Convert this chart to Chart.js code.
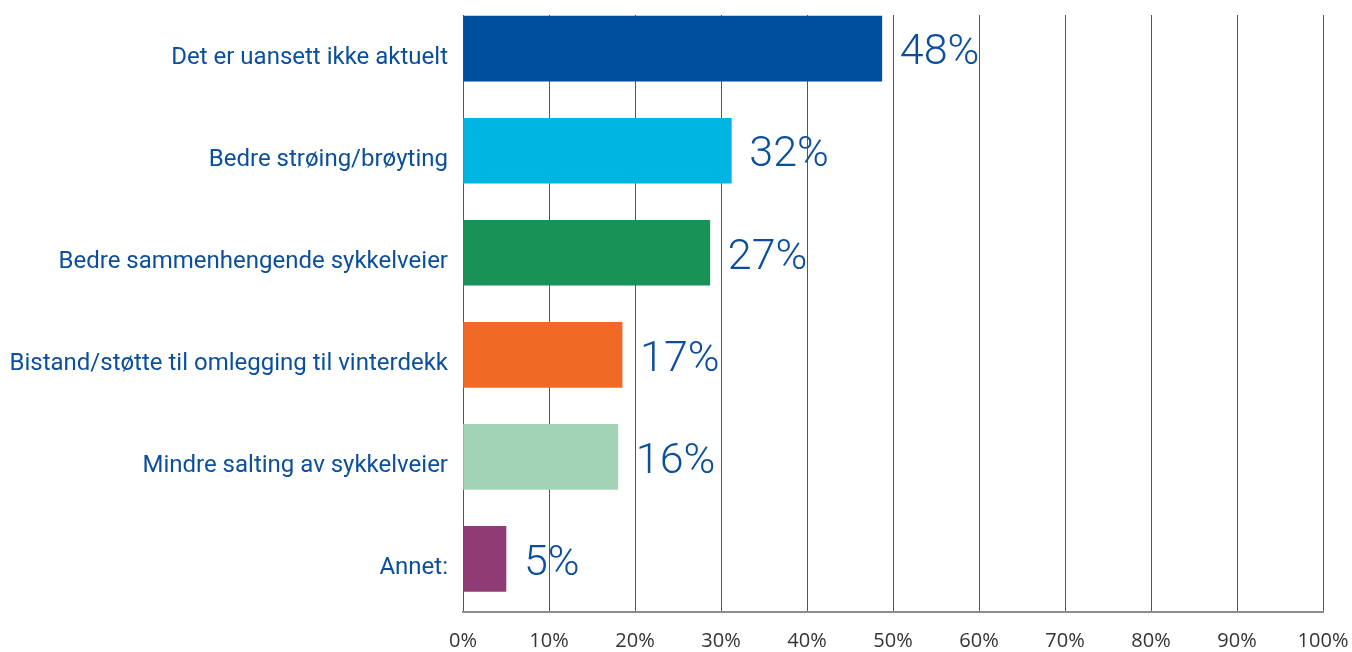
<!DOCTYPE html>
<html>
<head>
<meta charset="utf-8">
<script src="https://cdn.jsdelivr.net/npm/chart.js@4"></script>
<style>
  body { margin: 0; background: #fff; }
  #wrap { width: 1352px; height: 652px; position: relative; }
</style>
</head>
<body>
<div id="wrap"><canvas id="myChart"></canvas></div>
<script>
const categories = [
  'Det er uansett ikke aktuelt',
  'Bedre strøing/brøyting',
  'Bedre sammenhengende sykkelveier',
  'Bistand/støtte til omlegging til vinterdekk',
  'Mindre salting av sykkelveier',
  'Annet:'
];
const barValues = [48.7, 31.2, 28.7, 18.5, 18.0, 5.0];
const valueLabels = ['48%', '32%', '27%', '17%', '16%', '5%'];
const barColors = ['#004f9e', '#00b5e2', '#189257', '#ee6a25', '#a3d3b6', '#903c74'];
const xTicks = [0, 10, 20, 30, 40, 50, 60, 70, 80, 90, 100];

const blue = '#0b4f9c';

const valueLabelPlugin = {
  id: 'valueLabels',
  afterDatasetsDraw(chart) {
    const ctx = chart.ctx;
    const meta = chart.getDatasetMeta(0);
    ctx.save();
    ctx.font = '300 43px Roboto';
    ctx.fillStyle = blue;
    ctx.textBaseline = 'middle';
    ctx.textAlign = 'left';
    meta.data.forEach((bar, i) => {
      ctx.fillText(valueLabels[i], bar.x + 18, bar.y + 5);
    });
    ctx.restore();
  }
};

const ctx = document.getElementById('myChart');

new Chart(ctx, {
  type: 'bar',
  data: {
    datasets: [{
      data: barValues.map((v, i) => ({ x: v, y: i })),
      backgroundColor: barColors,
      borderWidth: 0,
      barThickness: 65
    }]
  },
  options: {
    indexAxis: 'y',
    responsive: true,
    maintainAspectRatio: false,
    animation: false,
    layout: { padding: { top: 15, right: 29, left: 0, bottom: 0 } },
    plugins: {
      legend: { display: false },
      tooltip: { enabled: false }
    },
    scales: {
      x: {
        type: 'linear',
        min: 0,
        max: 100,
        afterBuildTicks: s => { s.ticks = xTicks.map(v => ({ value: v })); },
        afterFit: s => { s.height = 40; s.paddingLeft = 0; s.paddingRight = 0; },
        grid: { color: '#555', lineWidth: 1, drawTicks: false },
        border: { color: '#8c8c8c', width: 2 },
        ticks: {
          padding: 17,
          color: '#333',
          font: { family: 'Open Sans', size: 20 },
          callback: v => v + '%'
        }
      },
      y: {
        type: 'linear',
        reverse: true,
        offset: false,
        min: -0.33,
        max: 5.52,
        afterBuildTicks: s => { s.ticks = categories.map((c, i) => ({ value: i })); },
        afterFit: s => { s.width = 463; s.paddingTop = 0; s.paddingBottom = 0; },
        grid: { display: false, drawTicks: false },
        border: { display: false },
        ticks: {
          autoSkip: false,
          padding: 15,
          labelOffset: 9,
          color: blue,
          font: { family: 'Roboto', size: 24 },
          callback: v => categories[v]
        }
      }
    }
  },
  plugins: [valueLabelPlugin]
});
</script>
</body>
</html>
